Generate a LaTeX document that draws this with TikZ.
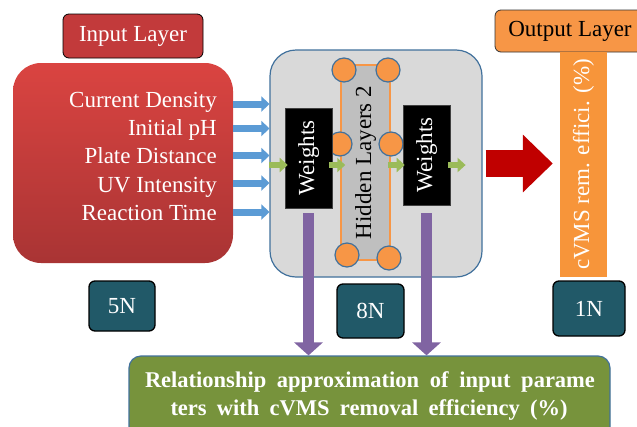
\documentclass[tikz,border=0pt]{standalone}
\usepackage{fontspec}
\setmainfont{Liberation Serif}
\usetikzlibrary{arrows.meta,calc}
\definecolor{inred}{HTML}{C23A3B}
\definecolor{boxredtop}{HTML}{DA4441}
\definecolor{boxredbot}{HTML}{A93434}
\definecolor{gbox}{HTML}{D9D9D9}
\definecolor{bborder}{HTML}{41719C}
\definecolor{hlgray}{HTML}{BFBFBF}
\definecolor{orng}{HTML}{F79646}
\definecolor{orngbar}{HTML}{F7953A}
\definecolor{teal}{HTML}{215968}
\definecolor{olive}{HTML}{77933C}
\definecolor{purp}{HTML}{8064A2}
\definecolor{bluea}{HTML}{5B9BD5}
\definecolor{greena}{HTML}{9BBB59}
\definecolor{darkred}{HTML}{C00000}
\begin{document}
\begin{tikzpicture}[x=1pt,y=-1pt,
  txt/.style={font=\fontsize{23}{27}\selectfont, inner sep=0pt},
  btxt/.style={font=\bfseries\fontsize{22.5}{27}\selectfont, inner sep=0pt, text=white},
  redbox/.style={rounded corners=28pt, top color=boxredtop, bottom color=boxredbot, draw=none, inner sep=0pt},
  inlayer/.style={rounded corners=6pt, fill=inred, draw=black, line width=0.8pt, inner sep=0pt},
  hidbox/.style={rounded corners=26pt, fill=gbox, draw=bborder, line width=1.2pt, inner sep=0pt},
  hlrect/.style={fill=hlgray, draw=orng, line width=1.5pt, inner sep=0pt},
  circ/.style={circle, fill=orng, draw=bborder, line width=1.2pt, minimum size=24pt, inner sep=0pt},
  wbox/.style={fill=black, draw=black!75, line width=0.6pt, inner sep=0pt, minimum width=47pt, minimum height=100pt},
  tealbox/.style={rounded corners=6pt, fill=teal, draw=black, line width=1.3pt, inner sep=0pt, text=white},
  bluearr/.style={line width=7pt, draw=bluea, -{Triangle[width=15pt,length=8pt]}},
  greenarr/.style={line width=6pt, draw=greena, -{Triangle[width=14pt,length=8pt]}},
  purparr/.style={line width=11pt, draw=purp, -{Triangle[width=28pt,length=13pt]}},
  redarr/.style={line width=27pt, draw=darkred, -{Triangle[width=56pt,length=30pt]}}
]
\useasboundingbox (0,0) rectangle (637,426);
\clip (0,0) rectangle (637,426);
\fill[white] (0,0) rectangle (637,426);

% Input layer
\node[inlayer, minimum width=140pt, minimum height=44pt, txt, text=white] (inlab) at (133,36) {Input Layer};
\node[redbox, minimum width=220pt, minimum height=200pt] (inbox) at (123,163) {};
\node[txt, text=white, anchor=base east] (l1) at (217,107) {Current Density};
\node[txt, text=white, anchor=base east] (l2) at (217,135) {Initial pH};
\node[txt, text=white, anchor=base east] (l3) at (217,163) {Plate Distance};
\node[txt, text=white, anchor=base east] (l4) at (217,192) {UV Intensity};
\node[txt, text=white, anchor=base east] (l5) at (217,220) {Reaction Time};

% Hidden block
\node[hidbox, minimum width=212pt, minimum height=227pt] (hid) at (376,163.5) {};
\node[hlrect, minimum width=49pt, minimum height=195pt] (hl) at (365.5,162.5) {};
\node[txt, rotate=90] (hlt) at (hl.center) {Hidden Layers 2};
\node[circ] (c1) at (344,70) {};
\node[circ] (c2) at (388,70) {};
\node[circ] (c3) at (340,144) {};
\node[circ] (c4) at (391,144) {};
\node[circ] (c5) at (347,255) {};
\node[circ] (c6) at (389,258) {};
\node[wbox] (w1) at (308.5,158) {};
\node[txt, rotate=90, text=white] (w1t) at (w1.center) {Weights};
\node[wbox] (w2) at (426.5,155) {};
\node[txt, rotate=90, text=white] (w2t) at (w2.center) {Weights};

% Output
\node[rounded corners=6pt, fill=orng, draw=black!80, line width=0.8pt, minimum width=150pt, minimum height=42pt, txt] (outlab) at (570,31) {Output Layer};
\node[fill=orngbar, draw=none, minimum width=47pt, minimum height=225pt, inner sep=0pt] (obar) at (583.5,164.5) {};
\node[txt, rotate=90, text=white] (obart) at (obar.center) {cVMS rem. effici. (\%)};

% count boxes
\node[tealbox, minimum width=66pt, minimum height=50pt, txt] (n5) at (122,306) {5N};
\node[tealbox, minimum width=67pt, minimum height=54pt, txt] (n8) at (370.5,311) {8N};
\node[tealbox, minimum width=72pt, minimum height=55pt, txt] (n1) at (589,308.5) {1N};

% result box
\node[rounded corners=12pt, fill=olive, draw=bborder, line width=1.2pt, minimum width=481pt, minimum height=84pt, inner sep=0pt] (res) at (369.5,398) {};
\node[btxt, anchor=base] (r1) at (370,387) {\makebox[450pt][s]{Relationship approximation of input parame}};
\node[btxt, anchor=base] (r2) at (369,415) {\makebox[397pt][s]{ters with cVMS removal efficiency (\%)}};

% arrows
\coordinate (a1) at (0,104);
\coordinate (a2) at (0,128.5);
\coordinate (a3) at (0,155.5);
\coordinate (a4) at (0,183);
\coordinate (a5) at (0,212);
\foreach \a in {a1,a2,a3,a4,a5}
  \draw[bluearr] (inbox.east |- \a) -- (hid.west |- \a);

\coordinate (ga) at (0,165);
\draw[greenarr] (hid.west |- ga) -- ([xshift=3pt]w1.west |- ga);
\draw[greenarr] ([xshift=-3pt]w1.east |- ga) -- ([xshift=5pt]hl.west |- ga);
\draw[greenarr] ([xshift=-3pt]hl.east |- ga) -- ([xshift=2pt]w2.west |- ga);
\draw[greenarr] ([xshift=-2pt]w2.east |- ga) -- ([xshift=-17pt]hid.east |- ga);

\coordinate (ra) at (0,163.5);
\draw[redarr, shorten <=3pt, shorten >=7pt] (hid.east |- ra) -- (obar.west |- ra);

\draw[purparr, shorten <=5pt] (w1.south) -- (w1.south |- res.north);
\draw[purparr, shorten <=8pt] (w2.south) -- (w2.south |- res.north);
\end{tikzpicture}
\end{document}
